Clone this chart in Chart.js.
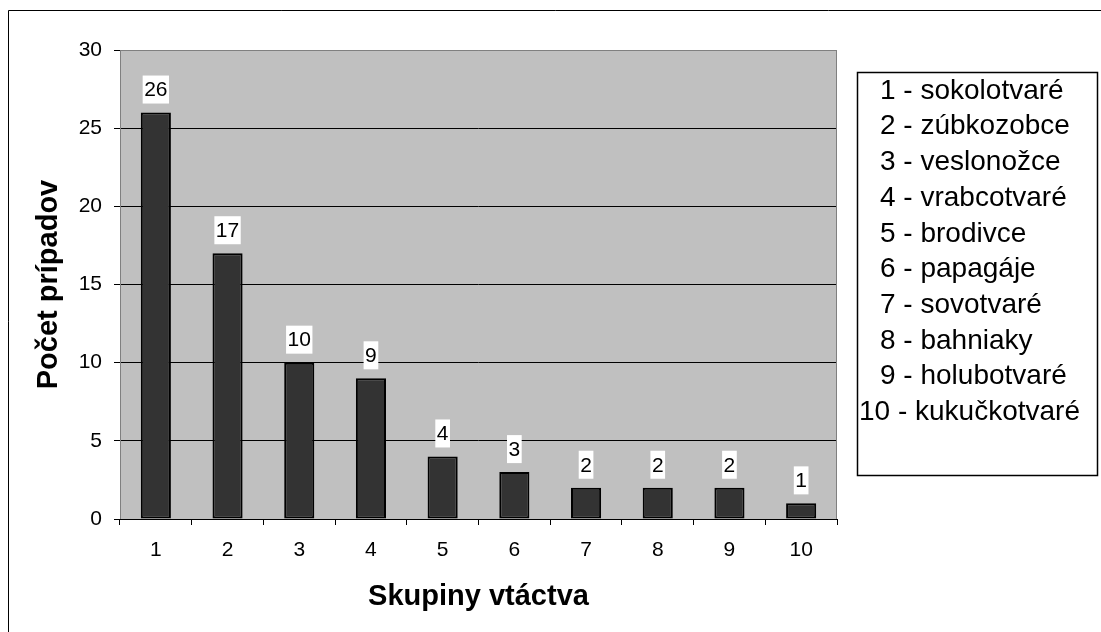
<!DOCTYPE html>
<html>
<head>
<meta charset="utf-8">
<script src="https://cdn.jsdelivr.net/npm/chart.js@4"></script>
<style>
  html, body { margin: 0; padding: 0; background: #fff; }
  #wrap { width: 1101px; height: 632px; position: relative; }
</style>
</head>
<body>
<div id="wrap"><canvas id="graf" width="1101" height="632"></canvas></div>
<script>
// udaje z grafu
var skupiny = ['1', '2', '3', '4', '5', '6', '7', '8', '9', '10'];
var pocty = [26, 17, 10, 9, 4, 3, 2, 2, 2, 1];
var yMax = 30;
var yKrok = 5;
var legenda = [
  '1 - sokolotvaré',
  '2 - zúbkozobce',
  '3 - veslonožce',
  '4 - vrabcotvaré',
  '5 - brodivce',
  '6 - papagáje',
  '7 - sovotvaré',
  '8 - bahniaky',
  '9 - holubotvaré',
  '10 - kukučkotvaré'
];

var FONT = "'Liberation Sans', Arial, sans-serif";

// pozadie plochy grafu, ramik a nadpisy osi
var excelPlugin = {
  id: 'excel',
  beforeDraw: function(chart) {
    var ctx = chart.ctx, a = chart.chartArea;
    ctx.save();
    ctx.fillStyle = '#fff';
    ctx.fillRect(0, 0, chart.width, chart.height);
    ctx.fillStyle = '#c0c0c0';
    ctx.fillRect(a.left, a.top, a.right - a.left, a.bottom - a.top);
    // vonkajsi ramik
    ctx.strokeStyle = '#000';
    ctx.lineWidth = 1;
    ctx.beginPath();
    ctx.moveTo(8.5, chart.height + 5);
    ctx.lineTo(8.5, 10.5);
    ctx.lineTo(chart.width + 5, 10.5);
    ctx.stroke();
    ctx.restore();
  },
  afterDraw: function(chart) {
    var ctx = chart.ctx, a = chart.chartArea;
    ctx.save();
    // sedy okraj plochy
    ctx.strokeStyle = '#808080';
    ctx.lineWidth = 1;
    ctx.beginPath();
    ctx.moveTo(a.left + 0.5, a.bottom);
    ctx.lineTo(a.left + 0.5, a.top + 0.5);
    ctx.lineTo(a.right - 0.5, a.top + 0.5);
    ctx.lineTo(a.right - 0.5, a.bottom);
    ctx.stroke();
    // os x
    ctx.strokeStyle = '#000';
    ctx.beginPath();
    ctx.moveTo(a.left - 6, a.bottom + 0.5);
    ctx.lineTo(a.right, a.bottom + 0.5);
    ctx.stroke();

    // nadpisy osi
    ctx.fillStyle = '#000';
    ctx.font = 'bold 29px ' + FONT;
    ctx.textAlign = 'center';
    ctx.textBaseline = 'middle';
    ctx.fillText('Skupiny vtáctva', (a.left + a.right) / 2, 597);
    ctx.save();
    ctx.translate(49, (a.top + a.bottom) / 2);
    ctx.rotate(-Math.PI / 2);
    ctx.fillText('Počet prípadov', 0, 0);
    ctx.restore();

    // legenda v ramiku
    ctx.fillStyle = '#fff';
    ctx.fillRect(857, 72, 241, 404);
    ctx.strokeStyle = '#000';
    ctx.lineWidth = 1.5;
    ctx.strokeRect(857.5, 72.5, 240, 403);
    ctx.fillStyle = '#000';
    ctx.font = '28px ' + FONT;
    ctx.textAlign = 'left';
    for (var i = 0; i < legenda.length; i++) {
      var x = legenda[i].indexOf('10') === 0 ? 859 : 880;
      ctx.fillText(legenda[i], x, 91 + i * 35.7);
    }
    ctx.restore();
  },
  afterDatasetsDraw: function(chart) {
    var ctx = chart.ctx;
    var meta = chart.getDatasetMeta(0);
    ctx.save();
    ctx.font = '21px ' + FONT;
    ctx.textAlign = 'center';
    ctx.textBaseline = 'middle';
    meta.data.forEach(function(bar, i) {
      var txt = String(pocty[i]);
      var w = ctx.measureText(txt).width + 3;
      var h = 28;
      var bottom = bar.y - 9;
      ctx.fillStyle = '#fff';
      ctx.fillRect(bar.x - w / 2, bottom - h, w, h);
      ctx.fillStyle = '#000';
      ctx.fillText(txt, bar.x, bottom - h / 2 + 1);
    });
    ctx.restore();
  }
};

var grafPocty = new Chart(document.getElementById('graf'), {
  type: 'bar',
  data: {
    labels: skupiny,
    datasets: [{
      label: 'Počet prípadov',
      data: pocty,
      backgroundColor: '#333333',
      borderColor: '#000000',
      borderWidth: 2,
      borderSkipped: false,
      barPercentage: 0.42,
      categoryPercentage: 1
    }]
  },
  options: {
    responsive: false,
    animation: false,
    devicePixelRatio: 1,
    layout: { padding: { left: 0, top: 50, right: 264, bottom: 0 } },
    plugins: {
      legend: { display: false },
      tooltip: { enabled: false }
    },
    scales: {
      x: {
        afterFit: function(s) { s.height = 113; },
        grid: {
          offset: true,
          drawOnChartArea: false,
          drawTicks: true,
          tickLength: 6,
          color: '#000'
        },
        border: { display: false },
        ticks: {
          color: '#000',
          font: { family: FONT, size: 21 },
          padding: 13,
          maxRotation: 0
        }
      },
      y: {
        min: 0,
        max: yMax,
        afterFit: function(s) { s.width = 120; },
        grid: {
          color: function(c) { return c.tick.value === yMax ? '#808080' : '#000'; },
          tickColor: '#000',
          drawTicks: true,
          tickLength: 6,
          lineWidth: 1
        },
        border: { display: false },
        ticks: {
          stepSize: yKrok,
          color: '#000',
          font: { family: FONT, size: 21 },
          padding: 12
        }
      }
    }
  },
  plugins: [excelPlugin]
});
</script>
</body>
</html>
